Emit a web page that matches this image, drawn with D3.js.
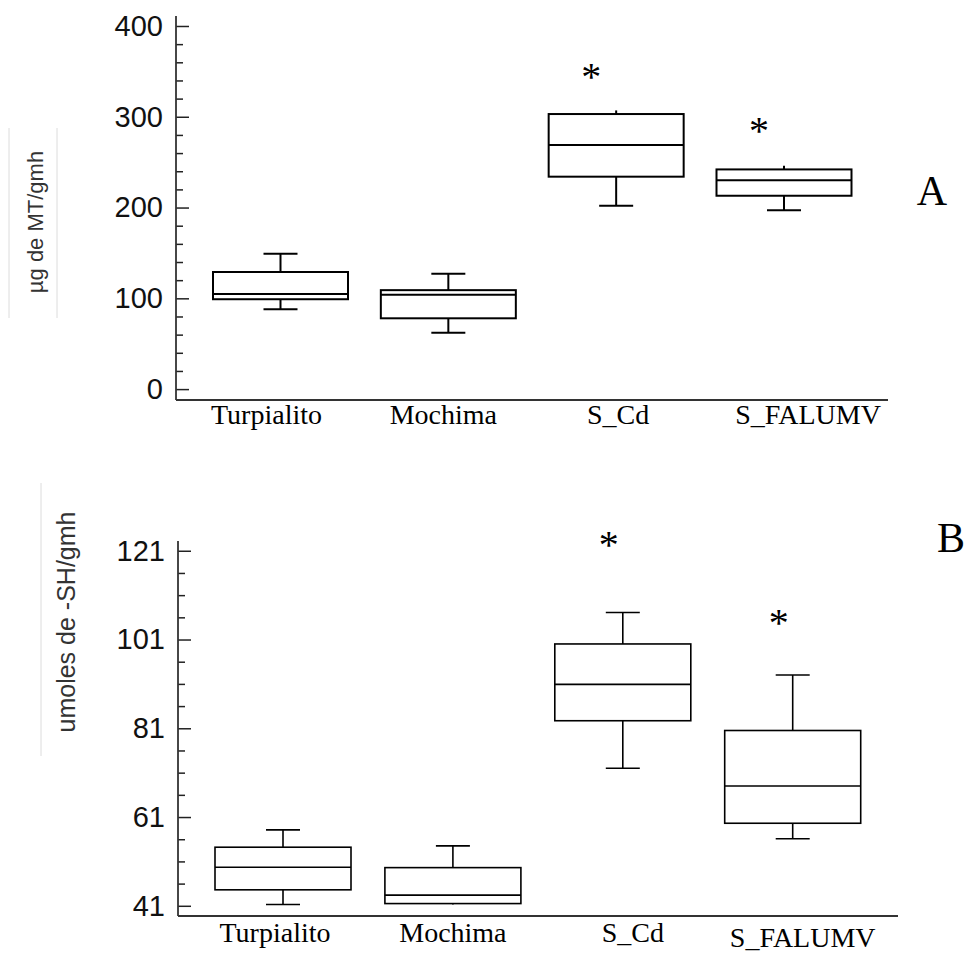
<!DOCTYPE html>
<html>
<head>
<meta charset="utf-8">
<script src="https://cdn.jsdelivr.net/npm/d3@7"></script>
<style>
  body { margin: 0; background: #fff; }
  svg { display: block; }
</style>
</head>
<body>
<div id="chart"></div>
<script>
// groups on the x axis (same for both panels)
const categories = ["Turpialito", "Mochima", "S_Cd", "S_FALUMV"];

// panel A: µg de MT/gmh  -> [min, q1, median, q3, max]
const boxesA = [
  [88, 99, 104.7, 129, 149],
  [62, 78, 104, 109, 127],
  [202, 234, 269, 303, 307],
  [197, 213, 230, 242, 246]
];
const starsA = [null, null, 342, 282];
const ticksA = [0, 100, 200, 300, 400];
const minorA = d3.range(20, 400, 20).filter(d => d % 100 !== 0);

// panel B: umoles de -SH/gmh
const boxesB = [
  [41.3, 44.6, 49.7, 54.2, 58.1],
  [41.3, 41.5, 43.4, 49.6, 54.5],
  [72.0, 82.7, 90.9, 100.0, 107.1],
  [56.1, 59.6, 68.0, 80.5, 93.0]
];
const starsB = [null, null, 121.8, 104.3];
const ticksB = [41, 61, 81, 101, 121];
const minorB = d3.range(46, 121, 5).filter(d => (d - 41) % 20 !== 0);

const W = 966, H = 955;
const svg = d3.select("#chart").append("svg")
  .attr("width", W).attr("height", H);

function panel(cfg) {
  const g = svg.append("g");

  const y = d3.scaleLinear().domain(cfg.yDomain).range([cfg.y0, cfg.y1]);
  const x = d3.scalePoint().domain(categories).range(cfg.xRange);

  // faint frame around the y title
  cfg.frame.forEach(fx => {
    g.append("line")
      .attr("x1", fx).attr("x2", fx)
      .attr("y1", cfg.frameY[0]).attr("y2", cfg.frameY[1])
      .attr("stroke", "#dcdcdc").attr("stroke-width", 1);
  });

  g.append("text")
    .attr("transform", `translate(${cfg.titleX},${cfg.titleY}) rotate(-90)`)
    .attr("text-anchor", "middle")
    .attr("font-family", "Liberation Sans, Arial, sans-serif")
    .attr("font-size", cfg.titleSize)
    .attr("fill", "#333")
    .text(cfg.title);

  // y axis: major ticks pointing inward with labels
  const yAxis = g.append("g")
    .attr("transform", `translate(${cfg.ax},0)`)
    .call(d3.axisLeft(y).tickValues(cfg.ticks).tickSize(-13).tickPadding(13).tickSizeOuter(0));
  yAxis.select(".domain").remove();
  yAxis.selectAll(".tick line").attr("stroke", "#222").attr("stroke-width", 1.5);
  yAxis.selectAll(".tick text")
    .attr("font-family", "Liberation Sans, Arial, sans-serif")
    .attr("font-size", 29)
    .attr("fill", "#111");

  const yMinor = g.append("g")
    .attr("transform", `translate(${cfg.ax},0)`)
    .call(d3.axisLeft(y).tickValues(cfg.minor).tickSize(-7).tickFormat(""));
  yMinor.select(".domain").remove();
  yMinor.selectAll(".tick line").attr("stroke", "#222").attr("stroke-width", 1.5);

  // axis lines
  g.append("line")
    .attr("x1", cfg.ax).attr("x2", cfg.ax)
    .attr("y1", cfg.y1).attr("y2", cfg.y0)
    .attr("stroke", "#333").attr("stroke-width", 1.8);
  g.append("line")
    .attr("x1", cfg.ax).attr("x2", cfg.axEnd)
    .attr("y1", cfg.y0).attr("y2", cfg.y0)
    .attr("stroke", "#333").attr("stroke-width", 1.8);

  // category labels
  g.selectAll(".cat")
    .data(categories)
    .join("text")
    .attr("class", "cat")
    .attr("x", (d, i) => x(d) + cfg.labelDx[i])
    .attr("y", (d, i) => cfg.labelY + cfg.labelDy[i])
    .attr("text-anchor", "middle")
    .attr("font-family", "Liberation Serif, Times New Roman, serif")
    .attr("font-size", 28)
    .attr("fill", "#000")
    .text(d => d);

  // boxes
  const bw = cfg.boxW, cap = 34;
  const box = g.selectAll(".box")
    .data(cfg.boxes)
    .join("g")
    .attr("class", "box")
    .attr("transform", (d, i) => `translate(${x(categories[i])},0)`)
    .attr("stroke", "#000")
    .attr("stroke-width", cfg.sw)
    .attr("fill", "none");

  box.append("line")
    .attr("x1", 0).attr("x2", 0)
    .attr("y1", d => y(d[3])).attr("y2", d => y(d[4]));
  box.append("line")
    .attr("x1", 0).attr("x2", 0)
    .attr("y1", d => y(d[1])).attr("y2", d => y(d[0]));
  box.filter(d => y(d[3]) - y(d[4]) > 8).append("line")
    .attr("x1", -cap / 2).attr("x2", cap / 2)
    .attr("y1", d => y(d[4])).attr("y2", d => y(d[4]));
  box.filter(d => y(d[0]) - y(d[1]) > 8).append("line")
    .attr("x1", -cap / 2).attr("x2", cap / 2)
    .attr("y1", d => y(d[0])).attr("y2", d => y(d[0]));
  box.append("rect")
    .attr("x", -bw / 2).attr("width", bw)
    .attr("y", d => y(d[3]))
    .attr("height", d => y(d[1]) - y(d[3]))
    .attr("fill", "#fff");
  box.append("line")
    .attr("x1", -bw / 2).attr("x2", bw / 2)
    .attr("y1", d => y(d[2])).attr("y2", d => y(d[2]));

  // significance marks
  g.selectAll(".star")
    .data(cfg.stars.map((v, i) => ({ v, c: categories[i] })).filter(d => d.v !== null))
    .join("text")
    .attr("class", "star")
    .attr("x", d => x(d.c) + cfg.starDx)
    .attr("y", d => y(d.v) + 11)
    .attr("text-anchor", "middle")
    .attr("font-family", "Liberation Serif, Times New Roman, serif")
    .attr("font-size", 40)
    .text("*");

  g.append("text")
    .attr("x", cfg.letter[0]).attr("y", cfg.letter[1])
    .attr("text-anchor", "middle")
    .attr("font-family", "Liberation Serif, Times New Roman, serif")
    .attr("font-size", 42)
    .text(cfg.letter[2]);
}

panel({
  boxes: boxesA, stars: starsA, ticks: ticksA, minor: minorA,
  yDomain: [-12, 411], y0: 400, y1: 16,
  xRange: [280.5, 784], boxW: 135, sw: 2,
  ax: 176, axEnd: 888,
  title: "µg de MT/gmh", titleX: 43, titleY: 222, titleSize: 22,
  frame: [9, 57], frameY: [128, 318],
  labelY: 424, labelDx: [-14, -5, 2, 24], labelDy: [0, 0, 0, 0],
  starDx: -25,
  letter: [932, 205, "A"]
});

panel({
  boxes: boxesB, stars: starsB, ticks: ticksB, minor: minorB,
  yDomain: [38.7, 123.2], y0: 916, y1: 541,
  xRange: [283, 792.7], boxW: 136, sw: 1.6,
  ax: 178, axEnd: 898,
  title: "umoles de -SH/gmh", titleX: 75, titleY: 622, titleSize: 25,
  frame: [41], frameY: [483, 756],
  labelY: 942, labelDx: [-8, 0, 10, 10], labelDy: [0, 0, 0, 5],
  starDx: -14,
  letter: [951, 552, "B"]
});
</script>
</body>
</html>
